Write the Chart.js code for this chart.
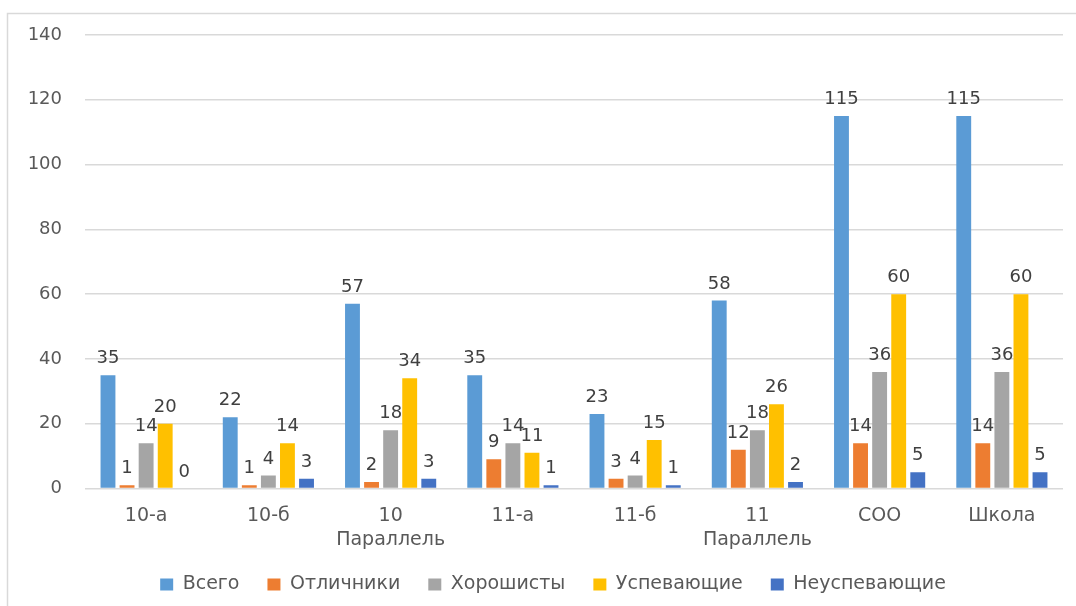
<!DOCTYPE html>
<html>
<head>
<meta charset="utf-8">
<script src="https://cdn.jsdelivr.net/npm/chart.js@4/dist/chart.umd.min.js"></script>
<style>
  html, body { margin: 0; padding: 0; background: #fff; }
  canvas { display: block; }
</style>
</head>
<body>
<canvas id="chart" width="1076" height="606"></canvas>
<script>
const categories = ['10-а', '10-б', ['10', 'Параллель'], '11-а', '11-б', ['11', 'Параллель'], 'СОО', 'Школа'];
const seriesNames = ['Всего', 'Отличники', 'Хорошисты', 'Успевающие', 'Неуспевающие'];
const total = [35, 22, 57, 35, 23, 58, 115, 115];
const excellent = [1, 1, 2, 9, 3, 12, 14, 14];
const good = [14, 4, 18, 14, 4, 18, 36, 36];
const passing = [20, 14, 34, 11, 15, 26, 60, 60];
const failing = [0, 3, 3, 1, 1, 2, 5, 5];
const yTicks = [0, 20, 40, 60, 80, 100, 120, 140];

const colors = ['#5B9BD5', '#ED7D31', '#A5A5A5', '#FFC000', '#4472C4'];
const FONT = '"DejaVu Sans", sans-serif';

// draws value above each bar
const valueLabels = {
  id: 'valueLabels',
  afterDatasetsDraw(chart) {
    const ctx = chart.ctx;
    ctx.save();
    ctx.font = '18px ' + FONT;
    ctx.fillStyle = '#404040';
    ctx.textAlign = 'center';
    ctx.textBaseline = 'alphabetic';
    chart.data.datasets.forEach((ds, i) => {
      chart.getDatasetMeta(i).data.forEach((bar, j) => {
        ctx.fillText(String(ds.data[j]), bar.x, bar.y - 12);
      });
    });
    ctx.restore();
  }
};

// light frame on the left and top edges
const frame = {
  id: 'frame',
  beforeDraw(chart) {
    const ctx = chart.ctx;
    ctx.save();
    ctx.strokeStyle = '#d9d9d9';
    ctx.lineWidth = 1.5;
    ctx.beginPath();
    ctx.moveTo(7.5, chart.height);
    ctx.lineTo(7.5, 13.5);
    ctx.lineTo(chart.width, 13.5);
    ctx.stroke();
    ctx.restore();
  }
};

// let tick labels spill outside the scale box (tight layout like the original)
const noClip = (scale) => { scale._computeLabelArea = () => undefined; };

const seriesData = [total, excellent, good, passing, failing];

new Chart(document.getElementById('chart'), {
  type: 'bar',
  data: {
    labels: categories,
    datasets: seriesNames.map((name, i) => ({
      label: name,
      data: seriesData[i],
      backgroundColor: colors[i],
      borderWidth: 0,
      barPercentage: 0.78,
      categoryPercentage: 0.78
    }))
  },
  options: {
    responsive: false,
    animation: false,
    devicePixelRatio: 1,
    layout: { padding: { top: 35, right: 13, left: 43, bottom: 2 } },
    plugins: {
      legend: {
        position: 'bottom',
        labels: {
          boxWidth: 13,
          boxHeight: 12,
          padding: 28,
          color: '#595959',
          font: { family: FONT, size: 19 }
        }
      },
      tooltip: { enabled: false }
    },
    scales: {
      x: {
        grid: { display: false, drawTicks: false },
        border: { display: false },
        afterFit(scale) { scale.height -= 21; noClip(scale); },
        ticks: {
          color: '#595959',
          padding: 16,
          maxRotation: 0,
          font: { family: FONT, size: 19, lineHeight: 1.25 }
        }
      },
      y: {
        min: 0,
        max: 140,
        afterFit(scale) { scale.width = 42; noClip(scale); },
        afterBuildTicks(scale) { scale.ticks = yTicks.map(v => ({ value: v })); },
        grid: { color: '#d9d9d9', lineWidth: 1.5, drawTicks: false },
        border: { display: false },
        ticks: {
          color: '#595959',
          padding: 23,
          font: { family: FONT, size: 18 }
        }
      }
    }
  },
  plugins: [valueLabels, frame]
});
</script>
</body>
</html>
